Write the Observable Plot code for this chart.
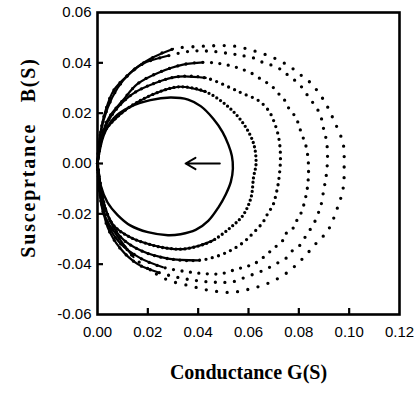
<!DOCTYPE html>
<html>
<head>
<meta charset="utf-8">
<script src="https://cdn.jsdelivr.net/npm/d3@7"></script>
<script src="https://cdn.jsdelivr.net/npm/@observablehq/plot@0.6"></script>
<style>
  html, body { margin: 0; padding: 0; background: #fff; }
  #chart { width: 417px; height: 394px; }
</style>
</head>
<body>
<div id="chart"></div>
<script>
// ---- data: [G (S), B (S)] going origin -> top -> right -> bottom -> origin
const curve1 = [[0,0],[0.0024,0.011],[0.0064,0.018],[0.013,0.0225],[0.021,0.0252],[0.029,0.0262],[0.036,0.0254],[0.041,0.0228],[0.046,0.0178],[0.0497,0.0125],[0.052,0.0075],[0.0534,0.003],[0.0538,-0.002],[0.053,-0.0072],[0.051,-0.0122],[0.048,-0.0175],[0.044,-0.0228],[0.039,-0.0264],[0.033,-0.0281],[0.028,-0.0285],[0.020,-0.0273],[0.013,-0.0246],[0.008,-0.0205],[0.004,-0.0155],[0.0012,-0.0085],[0,0]];
const curve2 = [[0,0],[0.0024,0.012],[0.0084,0.019],[0.016,0.0245],[0.026,0.029],[0.033,0.0305],[0.043,0.0285],[0.052,0.0225],[0.058,0.0158],[0.062,0.008],[0.063,0],[0.062,-0.0055],[0.061,-0.0135],[0.0578,-0.0206],[0.053,-0.0253],[0.046,-0.0305],[0.040,-0.0328],[0.034,-0.034],[0.028,-0.0337],[0.022,-0.0325],[0.013,-0.0293],[0.0064,-0.0246],[0.0025,-0.016],[0,0]];
const curve3 = [[0,0],[0.0025,0.013],[0.007,0.021],[0.014,0.0277],[0.023,0.032],[0.032,0.0345],[0.043,0.034],[0.053,0.030],[0.058,0.0277],[0.064,0.025],[0.068,0.021],[0.070,0.017],[0.072,0.0103],[0.0727,0.0024],[0.072,-0.0067],[0.071,-0.012],[0.0697,-0.0166],[0.0677,-0.0198],[0.0657,-0.0234],[0.0637,-0.0257],[0.061,-0.0285],[0.058,-0.0313],[0.053,-0.0345],[0.047,-0.037],[0.040,-0.0385],[0.028,-0.0378],[0.017,-0.0345],[0.009,-0.029],[0.0035,-0.019],[0,0]];
const curve4 = [[0,0],[0.0015,0.01],[0.0044,0.018],[0.010,0.025],[0.016,0.0317],[0.024,0.036],[0.034,0.0393],[0.042,0.0402],[0.048,0.0398],[0.053,0.0388],[0.057,0.0376],[0.061,0.036],[0.0657,0.033],[0.069,0.031],[0.0717,0.028],[0.074,0.0257],[0.076,0.022],[0.079,0.018],[0.080,0.015],[0.0817,0.0103],[0.083,0.0063],[0.0838,0],[0.0837,-0.0067],[0.083,-0.012],[0.081,-0.0194],[0.079,-0.023],[0.0777,-0.0257],[0.075,-0.0277],[0.0737,-0.0305],[0.070,-0.0337],[0.066,-0.0372],[0.062,-0.040],[0.058,-0.0412],[0.054,-0.0424],[0.049,-0.0438],[0.043,-0.0438],[0.037,-0.0432],[0.026,-0.0412],[0.017,-0.0376],[0.009,-0.0317],[0.004,-0.0238],[0.0012,-0.012],[0,0]];
const curve5 = [[0,0],[0.001,0.011],[0.0032,0.021],[0.0064,0.029],[0.012,0.035],[0.018,0.0396],[0.028,0.0428],[0.037,0.0446],[0.045,0.0446],[0.053,0.0436],[0.058,0.0428],[0.063,0.0416],[0.066,0.040],[0.070,0.0388],[0.0737,0.0368],[0.076,0.0348],[0.080,0.0317],[0.083,0.0277],[0.0857,0.024],[0.0877,0.021],[0.089,0.0178],[0.090,0.013],[0.091,0.009],[0.0914,0.002],[0.0908,-0.0055],[0.090,-0.0099],[0.0888,-0.0166],[0.0877,-0.0198],[0.086,-0.0238],[0.084,-0.027],[0.082,-0.030],[0.0797,-0.0333],[0.077,-0.035],[0.0745,-0.038],[0.0705,-0.040],[0.067,-0.042],[0.063,-0.0436],[0.058,-0.0455],[0.0538,-0.047],[0.047,-0.0472],[0.040,-0.0466],[0.033,-0.0455],[0.024,-0.0432],[0.016,-0.040],[0.009,-0.0337],[0.004,-0.0253],[0.0012,-0.013],[0,0]];
const curve6 = [[0,0],[0.0012,0.012],[0.004,0.022],[0.008,0.030],[0.013,0.036],[0.021,0.0416],[0.030,0.0455],[0.040,0.0465],[0.047,0.0468],[0.054,0.0467],[0.062,0.0448],[0.070,0.042],[0.076,0.0388],[0.081,0.035],[0.085,0.0317],[0.090,0.025],[0.094,0.017],[0.0976,0.0079],[0.098,0],[0.0976,-0.0099],[0.0952,-0.018],[0.0916,-0.0265],[0.0869,-0.0317],[0.0809,-0.0384],[0.075,-0.0436],[0.068,-0.0475],[0.060,-0.050],[0.053,-0.0512],[0.045,-0.0505],[0.037,-0.0487],[0.028,-0.0463],[0.021,-0.0424],[0.0143,-0.0372],[0.008,-0.029],[0.0024,-0.0198],[0,0]];

const xTicks = [0, 0.02, 0.04, 0.06, 0.08, 0.10, 0.12];
const yTicks = [-0.06, -0.04, -0.02, 0, 0.02, 0.04, 0.06];
const xInnerTicks = [0.02, 0.04, 0.06, 0.08, 0.10];
const yInnerTicks = [-0.04, -0.02, 0, 0.02, 0.04];
const arrowG = [0.0486, 0.035];  // tail, head
const arrowB = [0, 0];
const xTitle = "Conductance G(S)";
const yTitle = "Susceprtance\u00a0\u00a0\u00a0B(S)";

// ---- styles (kept apart from data)
// dot: spacing of dots (px) on the sampled part; top/bottom: G below which the trace looks solid
const curveStyles = [
  {dot: null},
  {dot: 4.5, top: 0.050, bottom: 0.046},
  {dot: 6.5, top: 0.046, bottom: 0.040},
  {dot: 8.5, top: 0.042, bottom: 0.030},
  {dot: 9.5, top: 0.033, bottom: 0.025},
  {dot: 10.5, top: 0.033, bottom: 0.020}
];

const curves = [curve1, curve2, curve3, curve4, curve5, curve6];
const W = 417, H = 394, mL = 97, mR = 18, mT = 12, mB = 80;
const frameW = W - mL - mR, frameH = H - mT - mB;
const fmt = d => (Math.abs(d) < 1e-9 ? 0 : d).toFixed(2);
const toRows = pts => pts.map(([g, b]) => ({g, b}));

const curveMarks = curves.flatMap((pts, i) => {
  const s = curveStyles[i];
  const rows = toRows(pts);
  if (!s.dot) {
    return [Plot.line(rows, {x: "g", y: "b", curve: "catmull-rom", stroke: "black", strokeWidth: 2.4})];
  }
  let iMax = 0;
  rows.forEach((r, k) => { if (r.g > rows[iMax].g) iMax = k; });
  const topPart = rows.slice(0, iMax + 1).filter(r => r.g <= s.top);
  const botPart = rows.slice(iMax).filter(r => r.g <= s.bottom);
  return [
    Plot.line(rows, {x: "g", y: "b", curve: "catmull-rom", stroke: "black", strokeWidth: 3.3,
      strokeLinecap: "round", strokeDasharray: `0 ${s.dot}`}),
    Plot.line(topPart, {x: "g", y: "b", curve: "catmull-rom", stroke: "black", strokeWidth: 2.2}),
    Plot.line(botPart, {x: "g", y: "b", curve: "catmull-rom", stroke: "black", strokeWidth: 2.2})
  ];
});

const chart = Plot.plot({
  width: W, height: H,
  marginLeft: mL, marginRight: mR, marginTop: mT, marginBottom: mB,
  style: {fontFamily: "'Liberation Sans', Arial, sans-serif", fontSize: "15px", color: "black", background: "white", overflow: "visible"},
  x: {domain: [0, 0.12]},
  y: {domain: [-0.06, 0.06]},
  marks: [
    Plot.axisX({ticks: xTicks, tickFormat: fmt, tickSize: 0, tickPadding: 12, label: null, fontSize: 15}),
    Plot.axisY({ticks: yTicks, tickFormat: fmt, tickSize: 0, tickPadding: 6, label: null, fontSize: 15}),
    Plot.tickY(yInnerTicks, {y: d => d, stroke: "black", strokeWidth: 2.2, insetRight: frameW - 6}),
    Plot.tickX(xInnerTicks, {x: d => d, stroke: "black", strokeWidth: 2.2, insetTop: frameH - 6}),
    ...curveMarks,
    Plot.arrow([0], {x1: () => arrowG[0], x2: () => arrowG[1], y1: () => arrowB[0], y2: () => arrowB[1],
      stroke: "black", strokeWidth: 2, headLength: 10}),
    Plot.frame({stroke: "black", strokeWidth: 2.6}),
    Plot.text([xTitle], {text: d => d, frameAnchor: "bottom", dy: 58, lineAnchor: "middle",
      fontFamily: "'Liberation Serif', 'Times New Roman', serif", fontWeight: "bold", fontSize: 20, fill: "black"}),
    Plot.text([yTitle], {text: d => d, frameAnchor: "left", dx: -69, dy: -6, rotate: -90, lineAnchor: "middle", textAnchor: "middle",
      fontFamily: "'Liberation Serif', 'Times New Roman', serif", fontWeight: "bold", fontSize: 20, fill: "black"})
  ]
});
document.getElementById("chart").appendChild(chart);
d3.select(chart).selectAll("text").filter(function() { return this.textContent.startsWith("Susceprtance"); })
  .style("letter-spacing", "1.8px");
</script>
</body>
</html>
